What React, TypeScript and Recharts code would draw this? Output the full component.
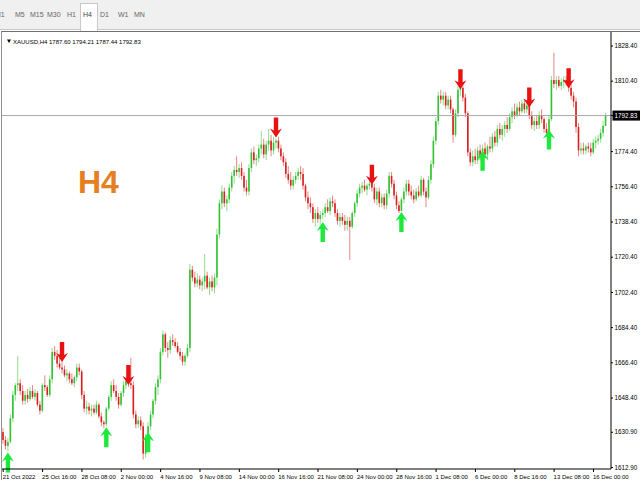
import React from "react";
import { ComposedChart, Bar, XAxis, YAxis, ReferenceLine } from "recharts";

const FONT = "'Liberation Sans', Arial, sans-serif";
const BULL = "#33c233";
const BEAR = "#d92020";
const UP_ARROW = "#1fe83c";
const DOWN_ARROW = "#e81212";

const timeframes = ["M1", "M5", "M15", "M30", "H1", "H4", "D1", "W1", "MN"];
const activeTimeframe = "H4";
const symbol = "XAUUSD,H4";

const xTickLabels = [
  "21 Oct 2022", "25 Oct 16:00", "28 Oct 08:00", "2 Nov 00:00", "4 Nov 16:00", "9 Nov 08:00",
  "14 Nov 00:00", "16 Nov 16:00", "21 Nov 08:00", "24 Nov 00:00", "28 Nov 16:00", "1 Dec 08:00",
  "6 Dec 00:00", "8 Dec 16:00", "13 Dec 08:00", "16 Dec 00:00",
];

const priceTicks = [1612.9, 1630.9, 1648.4, 1666.4, 1684.4, 1702.4, 1720.4, 1738.4, 1756.4, 1774.4, 1792.83, 1810.4, 1828.4];
const lastPrice = 1792.83;

// XAUUSD H4 bars, [open, high, low, close], six per trading day
const bars: [number, number, number, number][] = [
  // 21 Oct
  [1631, 1633, 1625, 1627], [1627, 1629, 1622, 1624], [1624, 1628, 1621, 1626], [1626, 1640, 1625, 1638], [1638, 1652, 1636, 1650], [1650, 1656, 1647, 1655],
  // 24 Oct
  [1655, 1670, 1652, 1656], [1656, 1658, 1650, 1652], [1652, 1655, 1645, 1647], [1647, 1652, 1645, 1650], [1650, 1653, 1646, 1648], [1648, 1654, 1647, 1652],
  // 25 Oct
  [1652, 1655, 1648, 1649], [1649, 1653, 1647, 1651], [1651, 1652, 1644, 1645], [1645, 1647, 1640, 1642], [1642, 1656, 1641, 1655], [1655, 1660, 1652, 1654],
  // 26 Oct
  [1654, 1655, 1649, 1650], [1650, 1660, 1649, 1658], [1658, 1674, 1656, 1672], [1672, 1675, 1668, 1670], [1670, 1673, 1664, 1666], [1666, 1671, 1663, 1664],
  // 27 Oct
  [1664, 1667, 1661, 1663], [1663, 1665, 1659, 1660], [1660, 1663, 1657, 1661], [1661, 1662, 1656, 1658], [1658, 1661, 1655, 1656], [1656, 1660, 1654, 1659],
  // 28 Oct
  [1659, 1666, 1657, 1664], [1664, 1666, 1660, 1662], [1662, 1663, 1648, 1650], [1650, 1652, 1641, 1643], [1643, 1647, 1640, 1644], [1644, 1646, 1640, 1642],
  // 31 Oct
  [1642, 1645, 1639, 1643], [1643, 1645, 1640, 1641], [1641, 1647, 1640, 1645], [1645, 1646, 1638, 1639], [1639, 1641, 1634, 1636], [1636, 1637, 1633, 1635],
  // 1 Nov
  [1635, 1644, 1634, 1643], [1643, 1650, 1642, 1649], [1649, 1657, 1647, 1655], [1655, 1658, 1651, 1652], [1652, 1655, 1647, 1649], [1649, 1651, 1643, 1645],
  // 2 Nov
  [1645, 1652, 1644, 1651], [1651, 1657, 1649, 1655], [1655, 1658, 1653, 1657], [1657, 1660, 1654, 1656], [1656, 1669, 1653, 1655], [1655, 1657, 1638, 1640],
  // 3 Nov
  [1640, 1642, 1633, 1635], [1635, 1639, 1633, 1637], [1637, 1639, 1632, 1634], [1634, 1636, 1617, 1620], [1620, 1630, 1618, 1628], [1628, 1636, 1627, 1634],
  // 4 Nov
  [1634, 1642, 1632, 1640], [1640, 1648, 1638, 1647], [1647, 1656, 1645, 1654], [1654, 1660, 1650, 1658], [1658, 1674, 1656, 1672], [1672, 1683, 1670, 1681],
  // 7 Nov
  [1681, 1682, 1672, 1674], [1674, 1677, 1669, 1673], [1673, 1680, 1671, 1678], [1678, 1681, 1675, 1677], [1677, 1679, 1674, 1675], [1675, 1677, 1671, 1672],
  // 8 Nov
  [1672, 1674, 1668, 1670], [1670, 1672, 1665, 1667], [1667, 1671, 1665, 1670], [1670, 1676, 1669, 1674], [1674, 1717, 1672, 1714], [1714, 1716, 1708, 1710],
  // 9 Nov
  [1710, 1713, 1705, 1707], [1707, 1712, 1705, 1709], [1709, 1711, 1704, 1706], [1706, 1710, 1703, 1708], [1708, 1722, 1704, 1711], [1711, 1713, 1704, 1705],
  // 10 Nov
  [1705, 1710, 1701, 1708], [1708, 1711, 1703, 1705], [1705, 1712, 1702, 1710], [1710, 1735, 1706, 1732], [1732, 1750, 1730, 1748], [1748, 1757, 1745, 1754],
  // 11 Nov
  [1754, 1756, 1746, 1748], [1748, 1752, 1744, 1750], [1750, 1758, 1748, 1756], [1756, 1764, 1754, 1762], [1762, 1767, 1758, 1765], [1765, 1772, 1762, 1764],
  // 14 Nov
  [1764, 1768, 1761, 1766], [1766, 1769, 1760, 1762], [1762, 1764, 1754, 1756], [1756, 1760, 1752, 1754], [1754, 1768, 1752, 1766], [1766, 1776, 1764, 1774],
  // 15 Nov
  [1774, 1777, 1768, 1770], [1770, 1773, 1767, 1771], [1771, 1778, 1769, 1776], [1776, 1785, 1773, 1778], [1778, 1781, 1771, 1773], [1773, 1780, 1770, 1778],
  // 16 Nov
  [1778, 1786, 1775, 1780], [1780, 1783, 1772, 1775], [1775, 1782, 1773, 1779], [1779, 1781, 1776, 1780], [1780, 1782, 1774, 1776], [1776, 1778, 1770, 1772],
  // 17 Nov
  [1772, 1774, 1767, 1769], [1769, 1771, 1761, 1763], [1763, 1767, 1758, 1760], [1760, 1764, 1755, 1757], [1757, 1762, 1755, 1760], [1760, 1764, 1758, 1762],
  // 18 Nov
  [1762, 1766, 1760, 1764], [1764, 1767, 1760, 1763], [1763, 1766, 1755, 1757], [1757, 1758, 1749, 1751], [1751, 1754, 1745, 1748], [1748, 1751, 1743, 1746],
  // 21 Nov
  [1746, 1748, 1738, 1740], [1740, 1745, 1736, 1743], [1743, 1746, 1738, 1740], [1740, 1744, 1737, 1742], [1742, 1745, 1740, 1743], [1743, 1748, 1741, 1746],
  // 22 Nov
  [1746, 1750, 1743, 1744], [1744, 1751, 1742, 1749], [1749, 1752, 1746, 1748], [1748, 1750, 1741, 1743], [1743, 1745, 1737, 1739], [1739, 1743, 1736, 1741],
  // 23 Nov
  [1741, 1743, 1737, 1739], [1739, 1742, 1734, 1737], [1737, 1741, 1734, 1739], [1739, 1741, 1719, 1736], [1736, 1744, 1735, 1743], [1743, 1749, 1741, 1748],
  // 24 Nov
  [1748, 1755, 1746, 1753], [1753, 1758, 1751, 1756], [1756, 1759, 1753, 1757], [1757, 1760, 1754, 1755], [1755, 1758, 1752, 1757], [1757, 1760, 1755, 1758],
  // 25 Nov
  [1758, 1759, 1754, 1756], [1756, 1758, 1748, 1750], [1750, 1756, 1747, 1754], [1754, 1756, 1746, 1748], [1748, 1753, 1746, 1751], [1751, 1753, 1745, 1747],
  // 28 Nov
  [1747, 1755, 1745, 1753], [1753, 1764, 1751, 1762], [1762, 1764, 1756, 1758], [1758, 1760, 1750, 1752], [1752, 1754, 1745, 1747], [1747, 1749, 1743, 1744],
  // 29 Nov
  [1744, 1751, 1744, 1750], [1750, 1756, 1748, 1754], [1754, 1760, 1752, 1758], [1758, 1760, 1752, 1754], [1754, 1757, 1750, 1752], [1752, 1755, 1748, 1750],
  // 30 Nov
  [1750, 1756, 1749, 1754], [1754, 1757, 1751, 1752], [1752, 1762, 1751, 1760], [1760, 1761, 1752, 1754], [1754, 1756, 1746, 1751], [1751, 1762, 1750, 1760],
  // 1 Dec
  [1760, 1770, 1758, 1768], [1768, 1782, 1766, 1780], [1780, 1792, 1778, 1790], [1790, 1805, 1788, 1803], [1803, 1806, 1799, 1801], [1801, 1805, 1798, 1803],
  // 2 Dec
  [1803, 1805, 1796, 1798], [1798, 1803, 1796, 1801], [1801, 1803, 1794, 1796], [1796, 1797, 1779, 1783], [1783, 1796, 1782, 1794], [1794, 1808, 1792, 1806],
  // 5 Dec
  [1806, 1809, 1803, 1807], [1807, 1808, 1800, 1802], [1802, 1804, 1792, 1794], [1794, 1795, 1772, 1774], [1774, 1776, 1767, 1769], [1769, 1775, 1767, 1772],
  // 6 Dec
  [1772, 1776, 1768, 1770], [1770, 1777, 1768, 1775], [1775, 1778, 1770, 1772], [1772, 1778, 1771, 1776], [1776, 1779, 1771, 1773], [1773, 1778, 1770, 1777],
  // 7 Dec
  [1777, 1782, 1774, 1776], [1776, 1784, 1774, 1782], [1782, 1785, 1777, 1779], [1779, 1788, 1777, 1786], [1786, 1789, 1781, 1783], [1783, 1788, 1780, 1786],
  // 8 Dec
  [1786, 1790, 1782, 1788], [1788, 1792, 1784, 1786], [1786, 1794, 1785, 1792], [1792, 1797, 1789, 1795], [1795, 1799, 1791, 1793], [1793, 1799, 1792, 1797],
  // 9 Dec
  [1797, 1800, 1793, 1795], [1795, 1801, 1794, 1799], [1799, 1801, 1794, 1796], [1796, 1800, 1794, 1798], [1798, 1799, 1791, 1793], [1793, 1795, 1786, 1788],
  // 12 Dec
  [1788, 1792, 1785, 1790], [1790, 1793, 1786, 1788], [1788, 1795, 1786, 1793], [1793, 1796, 1789, 1791], [1791, 1792, 1784, 1786], [1786, 1789, 1782, 1784],
  // 13 Dec
  [1784, 1793, 1783, 1791], [1791, 1813, 1790, 1811], [1811, 1825, 1807, 1809], [1809, 1813, 1806, 1811], [1811, 1813, 1807, 1808], [1808, 1812, 1806, 1810],
  // 14 Dec
  [1810, 1813, 1807, 1811], [1811, 1813, 1808, 1810], [1810, 1811, 1805, 1807], [1807, 1809, 1801, 1803], [1803, 1805, 1797, 1800], [1800, 1802, 1784, 1787],
  // 15 Dec
  [1787, 1789, 1772, 1775], [1775, 1779, 1773, 1776], [1776, 1779, 1773, 1775], [1775, 1778, 1773, 1777], [1777, 1779, 1774, 1776], [1776, 1779, 1772, 1774],
  // 16 Dec
  [1774, 1781, 1773, 1779], [1779, 1782, 1776, 1780], [1780, 1783, 1778, 1781], [1781, 1786, 1779, 1784], [1784, 1790, 1782, 1787.6], [1787.6, 1794.21, 1787.44, 1792.83],
];

// signal arrows: bar index and the price at the arrow tip
const upArrowBars = [2, 42, 59, 130, 162, 195, 222];
const upArrowPrices = [1620.6, 1633.5, 1630.9, 1738.4, 1743.5, 1774.9, 1785.7];
const downArrowBars = [24, 51, 111, 150, 186, 214, 230];
const downArrowPrices = [1666.9, 1655.1, 1781.6, 1757.4, 1806.3, 1797.0, 1806.8];

const data = bars.map(([o, h, l, c], i) => ({
  i,
  o,
  h,
  l,
  c,
  range: [l, h],
  up: upArrowPrices[upArrowBars.indexOf(i)],
  down: downArrowPrices[downArrowBars.indexOf(i)],
}));

const last = bars[bars.length - 1];

function priceToPixel(props: any) {
  const { y, height, payload } = props;
  const top = Math.min(y, y + height);
  const bot = Math.max(y, y + height);
  const { h, l } = payload;
  return (p: number) => top + ((h - p) / (h - l)) * (bot - top);
}

function Candle(props: any) {
  const { x, width, payload } = props;
  if (!payload) return null;
  const py = priceToPixel(props);
  const { o, h, l, c } = payload;
  const cx = x + width / 2;
  const color = c >= o ? BULL : BEAR;
  const bTop = py(Math.max(o, c));
  const bBot = py(Math.min(o, c));
  return (
    <g>
      <line x1={cx} x2={cx} y1={py(h)} y2={py(l)} stroke={color} strokeOpacity={0.55} strokeWidth={1} />
      <rect x={cx - 0.8} y={bTop} width={1.6} height={Math.max(bBot - bTop, 1)} fill={color} />
    </g>
  );
}

// arrow outline, tip at (0,0), pointing down; flipped for buy signals
function arrowPath(cx: number, t: number, dir: number) {
  const pts = [
    [0, 0], [-6, -9], [-2.2, -7], [-2.2, -20], [2.2, -20], [2.2, -7], [6, -9],
  ];
  return "M" + pts.map(([dx, dy]) => `${cx + dx},${t + dy * dir}`).join(" L") + " Z";
}

function Arrow(props: any) {
  const { x, width, payload } = props;
  if (!payload || (payload.up == null && payload.down == null)) return null;
  const py = priceToPixel(props);
  const cx = x + width / 2;
  if (payload.down != null) {
    return <path d={arrowPath(cx, py(payload.down), 1)} fill={DOWN_ARROW} />;
  }
  return <path d={arrowPath(cx, py(payload.up), -1)} fill={UP_ARROW} />;
}

function PriceTick(props: any) {
  const { x, y, payload } = props;
  const v = payload.value as number;
  if (Math.abs(v - lastPrice) < 0.001) {
    return (
      <g>
        <rect x={x - 2} y={y - 5} width={30} height={10} fill="#000" />
        <text x={x} y={y} dy="0.35em" fontSize={6.3} fontFamily={FONT} fill="#fff">
          {v.toFixed(2)}
        </text>
      </g>
    );
  }
  return (
    <text x={x} y={y} dy="0.35em" fontSize={6.3} fontFamily={FONT} fill="#000">
      {v.toFixed(2)}
    </text>
  );
}

function TimeTick(props: any) {
  const { x, y, payload } = props;
  const label = xTickLabels[Math.round(payload.value / 16)];
  return (
    <text x={x - 0.5} y={y} dy="0.71em" fontSize={6} fontFamily={FONT} fill="#000" textAnchor="start">
      {label}
    </text>
  );
}

const tabX = [-5, 15, 30, 47, 67, 83, 100, 118, 134];

export default function App() {
  return (
    <div style={{ position: "absolute", left: 0, top: 0, width: 640, height: 480, background: "#fff", overflow: "hidden", fontFamily: FONT }}>
      {/* timeframe toolbar */}
      <div style={{ position: "absolute", left: 0, top: 0, width: 640, height: 29, background: "#f0f0f0", borderBottom: "1px solid #c8c8c8" }}>
        <div style={{ position: "absolute", left: 80, top: 3, width: 16, height: 27, background: "#fff", border: "1px solid #c8c8c8", borderBottom: "none" }} />
        {timeframes.map((t, k) => (
          <span key={t} style={{ position: "absolute", left: tabX[k], top: 11, fontSize: 7, lineHeight: "8px", color: t === activeTimeframe ? "#444" : "#666" }}>
            {t}
          </span>
        ))}
      </div>
      {/* chart frame */}
      <div style={{ position: "absolute", left: 1, top: 31, width: 639, height: 449, borderTop: "1px solid #707070", borderLeft: "1px solid #909090" }} />
      <div style={{ position: "absolute", left: 0, top: 0 }}>
        <ComposedChart width={640} height={480} data={data} margin={{ top: 32, right: 0, bottom: 0, left: 2 }} barCategoryGap={0} barGap={0}>
          <XAxis
            dataKey="i"
            interval={15}
            height={11}
            padding={{ left: 0, right: 4 }}
            tickSize={3}
            tickMargin={2.5}
            axisLine={{ stroke: "#000" }}
            tickLine={{ stroke: "#000" }}
            tick={<TimeTick />}
          />
          <XAxis xAxisId="arrows" dataKey="i" hide padding={{ left: 0, right: 4 }} />
          <YAxis
            orientation="right"
            width={29}
            type="number"
            domain={[1612.13, 1835.56]}
            ticks={priceTicks}
            interval={0}
            tickSize={2}
            tickMargin={1.5}
            axisLine={{ stroke: "#000" }}
            tickLine={{ stroke: "#000" }}
            tick={<PriceTick />}
          />
          <ReferenceLine y={lastPrice} stroke="#a8a8a8" strokeWidth={1} />
          <Bar dataKey="range" shape={<Candle />} isAnimationActive={false} />
          <Bar dataKey="range" xAxisId="arrows" shape={<Arrow />} isAnimationActive={false} />
        </ComposedChart>
      </div>
      <svg width={640} height={480} style={{ position: "absolute", left: 0, top: 0, pointerEvents: "none" }}>
        <path d="M7,39.5 L11,39.5 L9,43 Z" fill="#000" />
        <text x={13} y={43.5} fontSize={6} fontFamily={FONT} fill="#000">
          {`${symbol}  ${last[0].toFixed(2)} ${last[1].toFixed(2)} ${last[2].toFixed(2)} ${last[3].toFixed(2)}`}
        </text>
        <text x={78} y={193} fontSize={32} fontWeight="bold" fontFamily={FONT} fill="#e67e22">
          H4
        </text>
      </svg>
    </div>
  );
}
